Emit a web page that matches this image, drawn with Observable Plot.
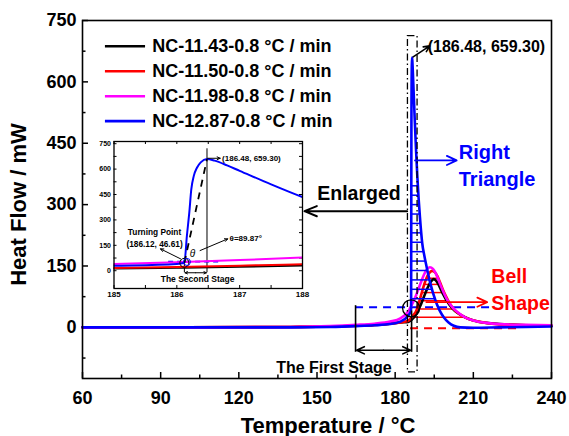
<!DOCTYPE html>
<html>
<head>
<meta charset="utf-8">
<script src="https://cdn.jsdelivr.net/npm/d3@7"></script>
<script src="https://cdn.jsdelivr.net/npm/@observablehq/plot@0.6"></script>
<style>
  html, body { margin: 0; padding: 0; background: #fff; }
  #wrap { position: relative; width: 569px; height: 436px; }
  #wrap svg { position: absolute; overflow: visible; }
</style>
</head>
<body>
<div id="wrap"></div>
<script>
// ---------- data ----------
const seriesNames = ["NC-11.43-0.8 °C / min", "NC-11.50-0.8 °C / min", "NC-11.98-0.8 °C / min", "NC-12.87-0.8 °C / min"];
const seriesColors = ["#000000", "#ff0000", "#ff00ff", "#0000ff"];

const tempBlack = [60, 100, 140, 155, 165, 172, 178, 182, 185, 186, 187, 188, 189, 190, 191, 192, 193, 194, 194.8, 195.6, 196.5, 197.5, 198.5, 200, 202, 204, 207, 210, 215, 220, 230, 240];
const hfBlack   = [0, 0, 1, 2, 4, 6, 9, 12, 13, 17, 23, 31, 44, 58, 74, 90, 104, 114, 118, 115, 106, 93, 80, 63, 46, 35, 24, 17, 11, 8, 5, 4];

const tempRed = [60, 100, 140, 155, 165, 172, 178, 182, 185, 186, 187, 188, 189, 190, 191, 192, 193, 194.2, 195.2, 196.2, 197.2, 198.2, 199.5, 201, 203, 205, 208, 212, 217, 225, 240];
const hfRed   = [0, 0, 1, 2, 4, 6, 9, 12, 16, 22, 30, 39, 58, 80, 102, 120, 132, 138, 135, 125, 110, 94, 76, 58, 41, 31, 21, 14, 9, 6, 4];

const tempPink = [60, 100, 140, 155, 165, 172, 178, 182, 185, 186, 187, 188, 189, 190, 191, 192, 193.3, 194.5, 195.5, 196.5, 197.5, 198.5, 200, 202, 204, 207, 210, 215, 220, 230, 240];
const hfPink   = [0, 0, 1, 3, 6, 9, 14, 22, 39, 50, 63, 78, 95, 112, 128, 140, 147, 143, 133, 118, 102, 87, 67, 49, 37, 24, 17, 11, 8, 6, 5];

const tempBlue = [60, 100, 140, 155, 165, 172, 178, 182, 185, 186, 186.12, 186.16, 186.2, 186.23, 186.27, 186.32, 186.38, 186.48, 186.6, 186.8, 187, 187.5, 188, 188.5, 189, 189.5, 190.4, 191.2, 192, 193.6, 195.5, 197, 198.7, 200.5, 202.5, 205, 210, 220, 240];
const hfBlue   = [0, 0, 0, 1, 3, 5, 8, 14, 29, 40, 46.61, 206, 350, 480, 560, 608, 640, 659.3, 650, 622, 590, 510, 435, 370, 315, 270, 205, 175, 150, 105, 65, 42, 24, 12, 4, 0, -1, 0, 2];

const xTickLabels = [60, 90, 120, 150, 180, 210, 240];
const yTickLabels = [0, 150, 300, 450, 600, 750];
const insetXTicks = [185, 186, 187, 188];
const insetYTicks = [0, 150, 300, 450, 600, 750];

const peakPoint = {t: 186.48, hf: 659.30};
const turningPoint = {t: 186.12, hf: 46.61};
const thetaText = "θ=89.87°";

const blueHatchLevels = [70, 93, 116, 139, 162, 185, 208, 231, 254, 277, 300, 323, 346];
const redHatchLevels = [25, 45, 65, 85, 105, 120];

// ---------- helpers ----------
const tables = [
  {T: tempBlack, H: hfBlack}, {T: tempRed, H: hfRed}, {T: tempPink, H: hfPink}, {T: tempBlue, H: hfBlue}
].map((s, i) => s.T.map((t, j) => ({t, hf: s.H[j], series: seriesNames[i], color: seriesColors[i]})));
const drawOrder = [0, 1, 2, 3];

function crossX(T, H, level, rising) {
  let p = 0; H.forEach((v, i) => { if (v > H[p]) p = i; });
  if (rising) {
    for (let i = 0; i < p; i++) if (H[i] <= level && H[i + 1] >= level) return T[i] + (level - H[i]) / (H[i + 1] - H[i]) * (T[i + 1] - T[i]);
  } else {
    for (let i = p; i < H.length - 1; i++) if (H[i] >= level && H[i + 1] <= level) return T[i] + (level - H[i]) / (H[i + 1] - H[i]) * (T[i + 1] - T[i]);
  }
  return T[p];
}
const blueHatch = blueHatchLevels.map(y => ({y, x1: 186.3, x2: crossX(tempBlue, hfBlue, y, false)}));
const redHatch = redHatchLevels.map(y => ({y, x1: Math.max(186.3, crossX(tempRed, hfRed, y, true)), x2: crossX(tempRed, hfRed, y, false)}));

const font = "'Liberation Sans', Arial, Helvetica, sans-serif";

// ---------- main chart ----------
const PH = 436 - 20 - 58; // plot height
const PW = 569 - 82 - 18;
const xMinor = d3.range(75, 240, 30);
const yMinor = d3.range(-75, 750, 150);

const legendRows = seriesNames.map((name, i) => ({name, color: seriesColors[i], y: [687, 626, 565, 504][i]}));

const main = Plot.plot({
  width: 569, height: 436,
  marginLeft: 82, marginRight: 18, marginTop: 20, marginBottom: 58,
  x: {domain: [60, 240]},
  y: {domain: [-125, 750]},
  style: {fontFamily: font, fontWeight: "bold", background: "transparent", overflow: "visible"},
  marks: [
    // inward ticks
    Plot.ruleX(xTickLabels, {x: d => d, insetTop: PH - 6, stroke: "black", strokeWidth: 1.5}),
    Plot.ruleX(xMinor, {x: d => d, insetTop: PH - 3.5, stroke: "black", strokeWidth: 1.5}),
    Plot.ruleY(yTickLabels, {y: d => d, insetRight: PW - 6, stroke: "black", strokeWidth: 1.5}),
    Plot.ruleY(yMinor, {y: d => d, insetRight: PW - 3.5, stroke: "black", strokeWidth: 1.5}),
    Plot.axisX(xTickLabels, {tickSize: 0, tickPadding: 13, fontSize: 18, fontWeight: "bold", label: null, fill: "black"}),
    Plot.axisY(yTickLabels, {tickSize: 0, tickPadding: 6, fontSize: 18, fontWeight: "bold", label: null, fill: "black"}),
    Plot.text(["Temperature / °C"], {frameAnchor: "bottom", lineAnchor: "middle", textAnchor: "middle", dy: 47, dx: 11, fontSize: 22, fontWeight: "bold"}),
    Plot.text(["Heat Flow / mW"], {frameAnchor: "left", lineAnchor: "middle", textAnchor: "middle", dx: -64, dy: 5, rotate: -90, fontSize: 22, fontWeight: "bold"}),

    // dashed reference lines
    Plot.ruleY([49.4], {y: d => d, x1: () => 164.8, x2: () => 216.6, stroke: "#0000ff", strokeWidth: 2, strokeDasharray: "8,6"}),
    Plot.ruleY([-2], {y: d => d, x1: () => 185.9, x2: () => 226.6, stroke: "#ff0000", strokeWidth: 2, strokeDasharray: "8,6"}),

    // hatches
    Plot.ruleY(redHatch, {y: "y", x1: "x1", x2: "x2", stroke: "#ff0000", strokeWidth: 1.5}),

    // curves
    ...drawOrder.map(i => Plot.line(tables[i], {x: "t", y: "hf", stroke: seriesColors[i], strokeWidth: 2.6, curve: "monotone-x"})),

    Plot.ruleY(blueHatch, {y: "y", x1: "x1", x2: "x2", stroke: "#0000ff", strokeWidth: 1.5}),

    // enlarged region box (dash-dot)
    Plot.rect([{x1: 184.9, x2: 188.6, y1: -110, y2: 712}], {x1: "x1", x2: "x2", y1: "y1", y2: "y2", fill: "none", stroke: "black", strokeWidth: 1.3, strokeDasharray: "7,3,1.5,3"}),

    // circle at turning point
    Plot.dot([turningPoint], {x: "t", y: "hf", r: 8.5, stroke: "black", strokeWidth: 1.3, fill: "none"}),

    // first stage
    Plot.ruleX([164.8, 186.3], {x: d => d, y1: () => -61, y2: (d, i) => i === 0 ? 53 : 40, stroke: "black", strokeWidth: 1.6}),
    Plot.arrow([{a: 175.5, b: 165.2}, {a: 175.5, b: 185.9}], {x1: "a", x2: "b", y1: () => -56, y2: () => -56, stroke: "black", strokeWidth: 1.6, headLength: 8, headAngle: 50}),
    Plot.text(["The First Stage"], {x: () => 156.5, y: () => -98, fontSize: 16, fontWeight: "bold"}),

    // peak label
    Plot.arrow([{x1: 186.9, y1: 661, x2: 193.3, y2: 688}], {x1: "x1", y1: "y1", x2: "x2", y2: "y2", stroke: "black", strokeWidth: 1.6, headLength: 8, headAngle: 50}),
    Plot.text([`(${peakPoint.t.toFixed(2)}, ${peakPoint.hf.toFixed(2)})`], {x: () => 192.5, y: () => 686, textAnchor: "start", fontSize: 16, fontWeight: "bold"}),

    // right triangle
    Plot.arrow([{x1: 187.6, x2: 203.6, y: 408}], {x1: "x1", x2: "x2", y1: "y", y2: "y", stroke: "#0000ff", strokeWidth: 1.8, headLength: 9, headAngle: 50}),
    Plot.text(["Right", "Triangle"], {x: () => 204.4, y: (d, i) => [428, 361][i], textAnchor: "start", fontSize: 20, fontWeight: "bold", fill: "#0000ff"}),

    // bell shape
    Plot.arrow([{x1: 192, x2: 215.3, y: 61.6}], {x1: "x1", x2: "x2", y1: "y", y2: "y", stroke: "#ff0000", strokeWidth: 1.8, headLength: 9, headAngle: 50}),
    Plot.text(["Bell", "Shape"], {x: () => 216.9, y: (d, i) => [122.7, 57.7][i], textAnchor: "start", fontSize: 19.5, fontWeight: "bold", fill: "#ff0000"}),

    // enlarged
    Plot.text(["Enlarged"], {x: () => 150.1, y: () => 326.5, textAnchor: "start", fontSize: 19.5, fontWeight: "bold"}),
    Plot.arrow([{x1: 184.6, x2: 145.2, y: 284}], {x1: "x1", x2: "x2", y1: "y", y2: "y", stroke: "black", strokeWidth: 2, headLength: 10, headAngle: 45}),

    // legend
    Plot.ruleY(legendRows, {y: "y", x1: () => 68.8, x2: () => 84.2, stroke: "color", strokeWidth: 2.6}),
    Plot.text(legendRows, {y: "y", x: () => 86.75, text: "name", textAnchor: "start", fontSize: 18, fontWeight: "bold"}),

    Plot.frame({stroke: "black", strokeWidth: 1.6})
  ]
});
main.style.left = "0px"; main.style.top = "0px";

// ---------- inset ----------
const IPW = 215 - 18.5 - 8, IPH = 175 - 11 - 17;
const inset = Plot.plot({
  width: 215, height: 175,
  marginLeft: 18.5, marginRight: 8, marginTop: 11, marginBottom: 17,
  x: {domain: [185, 188]},
  y: {domain: [-105, 763]},
  style: {fontFamily: font, fontWeight: "bold", background: "transparent", overflow: "visible"},
  marks: [
    Plot.frame({fill: "white"}),
    Plot.ruleX(d3.range(185, 188.01, 0.5), {x: d => d, insetTop: IPH - 3, stroke: "black", strokeWidth: 1}),
    Plot.ruleX(d3.range(185, 188.01, 0.5), {x: d => d, insetBottom: IPH - 3, stroke: "black", strokeWidth: 1}),
    Plot.ruleY(d3.range(0, 751, 75), {y: d => d, insetRight: IPW - 3, stroke: "black", strokeWidth: 1}),
    Plot.ruleY(d3.range(0, 751, 75), {y: d => d, insetLeft: IPW - 3, stroke: "black", strokeWidth: 1}),
    Plot.axisX(insetXTicks, {tickSize: 0, tickPadding: 3, fontSize: 8, fontWeight: "bold", label: null, fill: "black"}),
    Plot.axisY(insetYTicks, {tickSize: 0, tickPadding: 3, fontSize: 7, fontWeight: "bold", label: null, fill: "black"}),

    // second stage guides
    Plot.ruleX([peakPoint.t], {x: d => d, y1: () => -12, y2: () => 720, stroke: "black", strokeWidth: 1}),
    Plot.ruleX([turningPoint.t], {x: d => d, y1: () => -12, y2: () => turningPoint.hf, stroke: "black", strokeWidth: 1}),
    Plot.arrow([{a: 186.3, b: 186.13}, {a: 186.3, b: 186.47}], {x1: "a", x2: "b", y1: () => -12, y2: () => -12, stroke: "black", strokeWidth: 1, headLength: 4, headAngle: 50}),
    Plot.text(["The Second Stage"], {x: () => 186.33, y: () => -48, fontSize: 8.5, fontWeight: "bold"}),

    // blue dashed
    Plot.ruleY([54], {y: d => d, x1: () => 185.87, x2: () => 186.72, stroke: "#0000ff", strokeWidth: 1.8, strokeDasharray: "5,4"}),

    // curves
    ...drawOrder.map(i => Plot.line(tables[i], {x: "t", y: "hf", stroke: seriesColors[i], strokeWidth: 2, curve: "monotone-x", clip: true})),

    // dashed tangent
    Plot.link([{x1: turningPoint.t, y1: turningPoint.hf, x2: peakPoint.t, y2: peakPoint.hf}], {x1: "x1", y1: "y1", x2: "x2", y2: "y2", stroke: "black", strokeWidth: 1.8, strokeDasharray: "7,6"}),

    // turning point
    Plot.dot([turningPoint], {x: "t", y: "hf", r: 4.5, stroke: "black", strokeWidth: 1, fill: "none"}),
    Plot.dot([{t: 186.16, hf: 52}], {x: "t", y: "hf", r: 3.5, stroke: "#0000ff", strokeWidth: 1, fill: "none"}),
    Plot.arrow([{x1: 186.06, y1: 70, x2: 185.74, y2: 129}], {x1: "x1", y1: "y1", x2: "x2", y2: "y2", stroke: "black", strokeWidth: 1, headLength: 5, headAngle: 50}),
    Plot.text(["Turning Point", `(${turningPoint.t.toFixed(2)}, ${turningPoint.hf.toFixed(2)})`], {x: () => 185.645, y: (d, i) => [225, 158][i], fontSize: 8.3, fontWeight: "bold"}),

    // theta
    Plot.text(["θ"], {x: () => 186.25, y: () => 100, fontSize: 10, fontStyle: "italic", fontWeight: "normal"}),
    Plot.arrow([{x1: 186.37, y1: 119, x2: 186.81, y2: 188}], {x1: "x1", y1: "y1", x2: "x2", y2: "y2", stroke: "black", strokeWidth: 1, headLength: 5, headAngle: 50}),
    Plot.text([thetaText], {x: () => 186.84, y: () => 192, textAnchor: "start", fontSize: 8, fontWeight: "bold"}),

    // peak
    Plot.arrow([{x1: 186.49, x2: 186.69, y: 664}], {x1: "x1", x2: "x2", y1: "y", y2: "y", stroke: "black", strokeWidth: 1, headLength: 5, headAngle: 50}),
    Plot.text([`(${peakPoint.t.toFixed(2)}, ${peakPoint.hf.toFixed(2)})`], {x: () => 186.72, y: () => 662, textAnchor: "start", fontSize: 8, fontWeight: "bold"}),

    Plot.frame({stroke: "black", strokeWidth: 1.3})
  ]
});
inset.style.left = "95px"; inset.style.top = "130px";

const wrap = document.getElementById("wrap");
wrap.appendChild(main);
wrap.appendChild(inset);
</script>
</body>
</html>
